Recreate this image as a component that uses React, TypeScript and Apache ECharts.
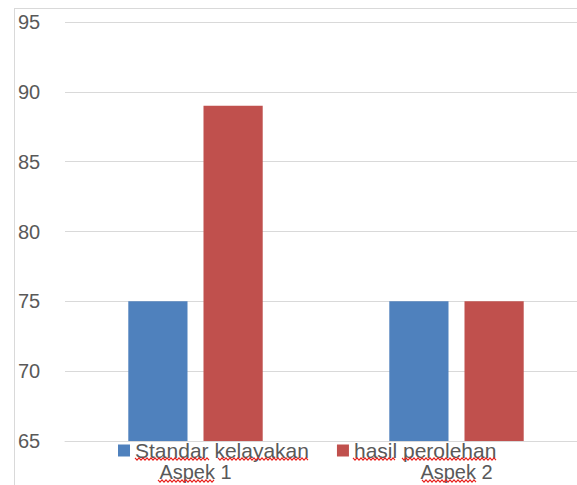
import React, { useEffect, useRef } from "react";
import * as echarts from "echarts";

const categories = ["Aspek 1", "Aspek 2"];
const seriesNames = ["Standar kelayakan", "hasil perolehan"];
const standarValues = [75, 75];
const hasilValues = [89, 75];
const yMin = 65;
const yMax = 95;
const yInterval = 5;

function squiggle(x1: number, x2: number, y: number) {
  const pts: number[][] = [];
  let up = true;
  for (let x = x1; x <= x2; x += 2) {
    pts.push([x, up ? y - 1.2 : y + 1.2]);
    up = !up;
  }
  return {
    type: "polyline",
    shape: { points: pts },
    style: { stroke: "#e8201c", lineWidth: 1.1, fill: "none" },
    silent: true,
    z: 100,
  };
}

export default function App() {
  const ref = useRef<HTMLDivElement>(null);
  useEffect(() => {
    if (!ref.current) return;
    const chart = echarts.init(ref.current, null, { renderer: "svg" });
    const font = "'Liberation Sans', Arial, sans-serif";
    chart.setOption({
      animation: false,
      backgroundColor: "#ffffff",
      textStyle: { fontFamily: font },
      grid: { left: 65, right: 3, top: 22, bottom: 44, containLabel: false },
      legend: {
        data: seriesNames,
        left: 118,
        top: 440,
        padding: 0,
        itemWidth: 12,
        itemHeight: 12,
        itemGap: 28,
        icon: "rect",
        textStyle: { color: "#595959", fontSize: 21, lineHeight: 16, fontFamily: font },
      },
      xAxis: {
        type: "category",
        data: categories,
        axisLine: { show: true, lineStyle: { color: "#d9d9d9", width: 1 } },
        axisTick: { show: false },
        axisLabel: { color: "#595959", fontSize: 20, lineHeight: 16, margin: 23, fontFamily: font },
      },
      yAxis: {
        type: "value",
        min: yMin,
        max: yMax,
        interval: yInterval,
        axisLine: { show: false },
        axisTick: { show: false },
        splitLine: { lineStyle: { color: "#d9d9d9", width: 1 } },
        axisLabel: { color: "#595959", fontSize: 20, align: "left", margin: 47, fontFamily: font },
      },
      series: [
        {
          name: seriesNames[0],
          type: "bar",
          data: standarValues,
          itemStyle: { color: "#4F81BD" },
          barGap: "27%",
          barCategoryGap: "48.5%",
        },
        {
          name: seriesNames[1],
          type: "bar",
          data: hasilValues,
          itemStyle: { color: "#C0504D" },
          barGap: "27%",
          barCategoryGap: "48.5%",
        },
      ],
      graphic: [
        {
          type: "line",
          shape: { x1: 14.5, y1: 8, x2: 14.5, y2: 485 },
          style: { stroke: "#d9d9d9", lineWidth: 1 },
          silent: true,
        },
        {
          type: "line",
          shape: { x1: 14, y1: 8.5, x2: 590, y2: 8.5 },
          style: { stroke: "#d9d9d9", lineWidth: 1 },
          silent: true,
        },
        squiggle(135, 209, 459),
        squiggle(218, 309, 459),
        squiggle(353, 396, 459),
        squiggle(402, 497, 459),
        squiggle(158, 215, 481),
        squiggle(422, 477, 481),
      ],
    });
    return () => chart.dispose();
  }, []);
  return (
    <div style={{ position: "fixed", left: 0, top: 0, width: 577, height: 485, overflow: "hidden", background: "#fff" }}>
      <div ref={ref} style={{ width: 590, height: 485 }} />
    </div>
  );
}
